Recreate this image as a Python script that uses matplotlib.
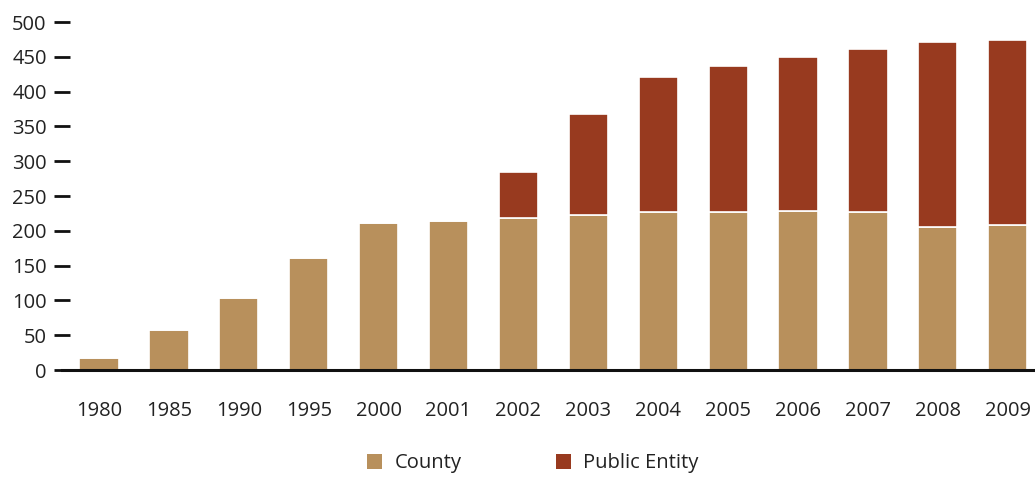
import matplotlib
matplotlib.use("Agg")
import matplotlib.pyplot as plt
from matplotlib.patches import Patch
import numpy as np

plt.rcParams['font.family'] = ['Open Sans', 'DejaVu Sans']

years = ['1980', '1985', '1990', '1995', '2000', '2001', '2002',
         '2003', '2004', '2005', '2006', '2007', '2008', '2009']
county = [17, 57, 103, 161, 211, 214, 218, 223, 227, 227, 228, 227, 205, 208]
public_entity = [0, 0, 0, 0, 0, 0, 66, 145, 194, 210, 222, 234, 266, 266]

c_county = '#B8905C'
c_public = '#983A1F'

fig = plt.figure(figsize=(10.35, 4.80), dpi=100)
left_px = 62.0
ax = fig.add_axes([left_px / 1035, 0.229, 1 - left_px / 1035, 0.754])

x = np.arange(len(years))
w = 0.56
ax.bar(x, county, width=w, color=c_county, edgecolor='white', linewidth=1.2)
ax.bar(x, public_entity, width=w, bottom=county, color=c_public,
       edgecolor='white', linewidth=1.2)

ax.set_xlim(-0.53, len(years) - 1 + 0.39)
ax.set_ylim(0, 520)
ax.set_yticks(np.arange(0, 501, 50))
ax.set_xticks(x)
ax.set_xticklabels(years)

for s in ['top', 'right', 'left']:
    ax.spines[s].set_visible(False)
ax.spines['bottom'].set_linewidth(2.2)
ax.spines['bottom'].set_color('#111111')

ax.tick_params(axis='y', direction='inout', length=12, width=2.0,
               color='#111111', pad=5, labelsize=14.5, labelcolor='#222222')
ax.tick_params(axis='x', length=0, pad=22, labelsize=14.5, labelcolor='#222222')

handles = [Patch(facecolor=c_county, edgecolor='none', label='County'),
           Patch(facecolor=c_public, edgecolor='none', label='Public Entity')]
fig.legend(handles=handles, loc='center', bbox_to_anchor=(0.515, 0.035),
           ncol=2, frameon=False, fontsize=14.5, handlelength=0.75,
           handleheight=0.75, columnspacing=4.7, handletextpad=0.6,
           labelcolor='#222222')

fig.savefig('out.png', dpi=100, facecolor='white')
